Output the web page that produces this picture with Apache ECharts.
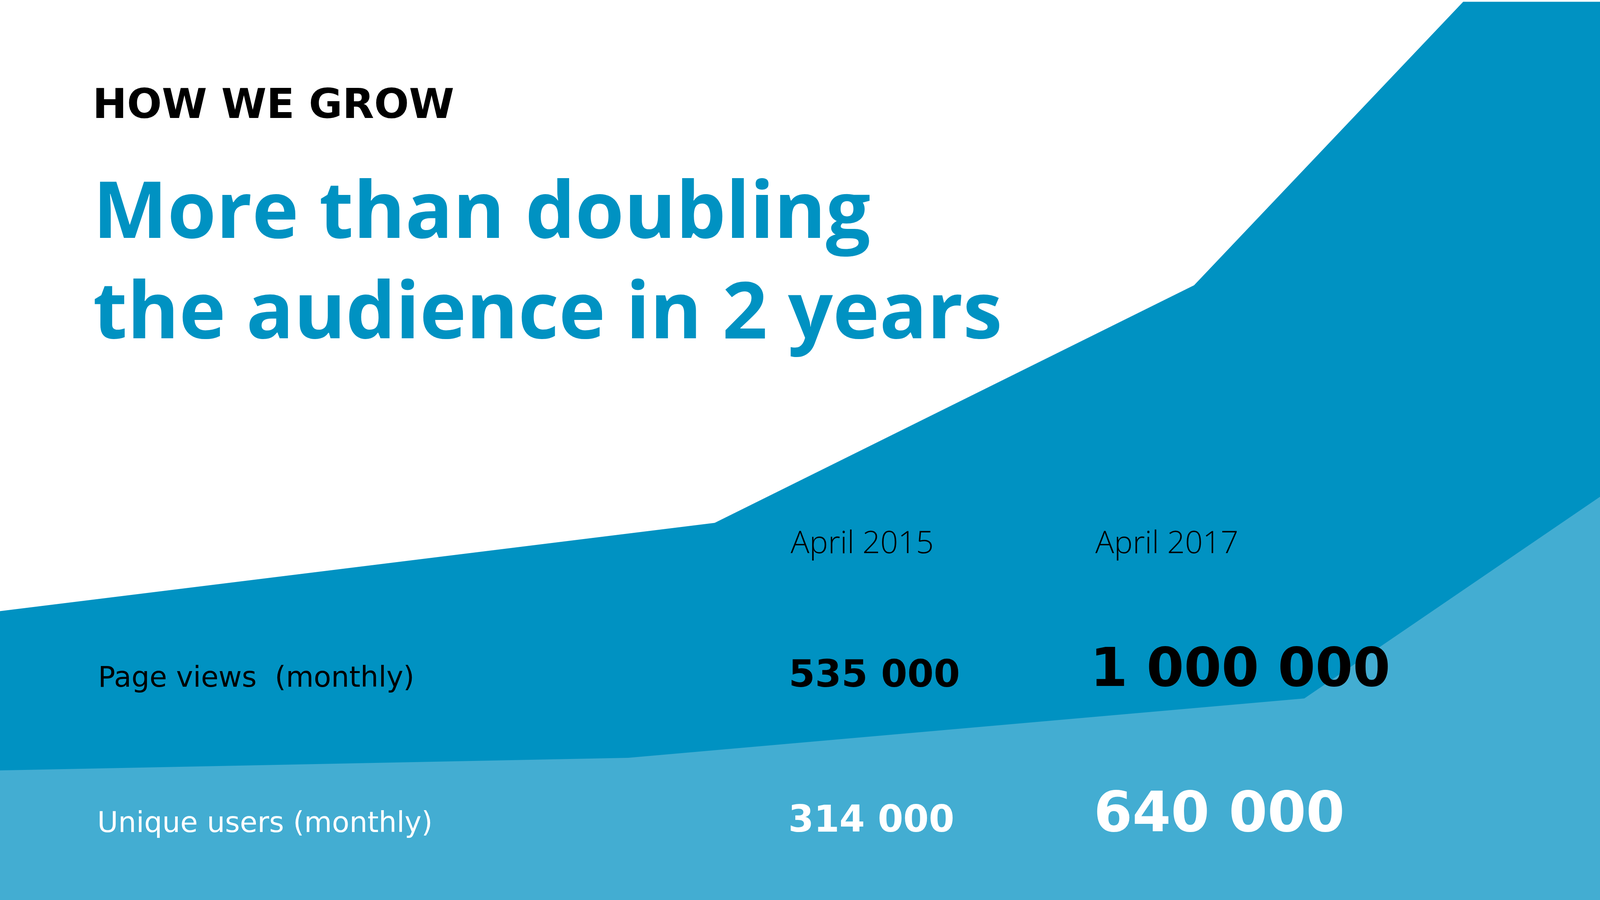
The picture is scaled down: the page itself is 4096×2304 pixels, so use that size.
<!DOCTYPE html>
<html>
<head>
<meta charset="utf-8">
<script src="https://cdn.jsdelivr.net/npm/echarts@6/dist/echarts.min.js"></script>
<style>
  html, body { margin: 0; padding: 0; background: #ffffff; }
  #chart { width: 4096px; height: 2304px; }
</style>
</head>
<body>
<div id="chart"></div>
<script>
// ---- Data ----
var kicker = 'HOW WE GROW';
var titleLines = ['More than doubling', 'the audience in 2 years'];
var periods = ['April 2015', 'April 2017'];
var metricLabels = ['Page views  (monthly)', 'Unique users (monthly)'];
var pageViews = [535000, 1000000];
var uniqueUsers = [314000, 640000];

// Decorative growth shapes (x: % of width, y: % of height)
var pageViewsShapeX = [0, 44.67, 74.63, 91.45, 100];
var pageViewsShapeY = [32.1, 41.9, 68.3, 99.8, 99.8];
var usersShapeX = [0, 39.26, 81.52, 100];
var usersShapeY = [14.4, 15.8, 22.4, 44.8];

var DARK = '#0092C2';
var LIGHT = '#43ADD2';

function fmt(n) {
  return String(n).replace(/\B(?=(\d{3})+(?!\d))/g, ' ');
}
function pairs(xs, ys) {
  return xs.map(function (x, i) { return [x, ys[i]]; });
}

var OPEN = '"Open Sans"';
var DEJAVU = '"DejaVu Sans"';
// place text by baseline using middle vertical align
function txt(str, x, baseline, size, weight, color, family) {
  return {
    type: 'text',
    z: 100,
    silent: true,
    x: x,
    y: baseline - size * 0.30,
    style: {
      text: str,
      fontFamily: family,
      fontSize: size,
      fontWeight: weight,
      fill: color,
      align: 'left',
      verticalAlign: 'middle'
    }
  };
}

var chart = echarts.init(document.getElementById('chart'));
chart.setOption({
  animation: false,
  backgroundColor: '#ffffff',
  grid: { left: 0, right: 0, top: 0, bottom: 0 },
  xAxis: { type: 'value', min: 0, max: 100, show: false },
  yAxis: { type: 'value', min: 0, max: 100, show: false },
  series: [
    {
      type: 'line',
      data: pairs(pageViewsShapeX, pageViewsShapeY),
      symbol: 'none',
      silent: true,
      lineStyle: { width: 0 },
      itemStyle: { color: DARK },
      areaStyle: { color: DARK, opacity: 1 },
      z: 1
    },
    {
      type: 'line',
      data: pairs(usersShapeX, usersShapeY),
      symbol: 'none',
      silent: true,
      lineStyle: { width: 0 },
      itemStyle: { color: LIGHT },
      areaStyle: { color: LIGHT, opacity: 1 },
      z: 2
    }
  ],
  graphic: [
    txt(kicker, 237, 306, 105, 'bold', '#000000', DEJAVU),
    txt(titleLines[0], 238, 612, 202, 'bold', DARK, OPEN),
    txt(titleLines[1], 238, 869, 202, 'bold', DARK, OPEN),
    txt(metricLabels[0], 251, 1761, 73, 'normal', '#000000', DEJAVU),
    txt(metricLabels[1], 249, 2133, 73, 'normal', '#ffffff', DEJAVU),
    txt(periods[0], 2024, 1417, 80, 300, '#000000', OPEN),
    txt(periods[1], 2804, 1417, 80, 300, '#000000', OPEN),
    txt(fmt(pageViews[0]), 2019, 1762, 97, 'bold', '#000000', DEJAVU),
    txt(fmt(pageViews[1]), 2791, 1762, 138, 'bold', '#000000', DEJAVU),
    txt(fmt(uniqueUsers[0]), 2018, 2133, 94, 'bold', '#ffffff', DEJAVU),
    txt(fmt(uniqueUsers[1]), 2800, 2134, 142, 'bold', '#ffffff', DEJAVU)
  ]
});
</script>
</body>
</html>
